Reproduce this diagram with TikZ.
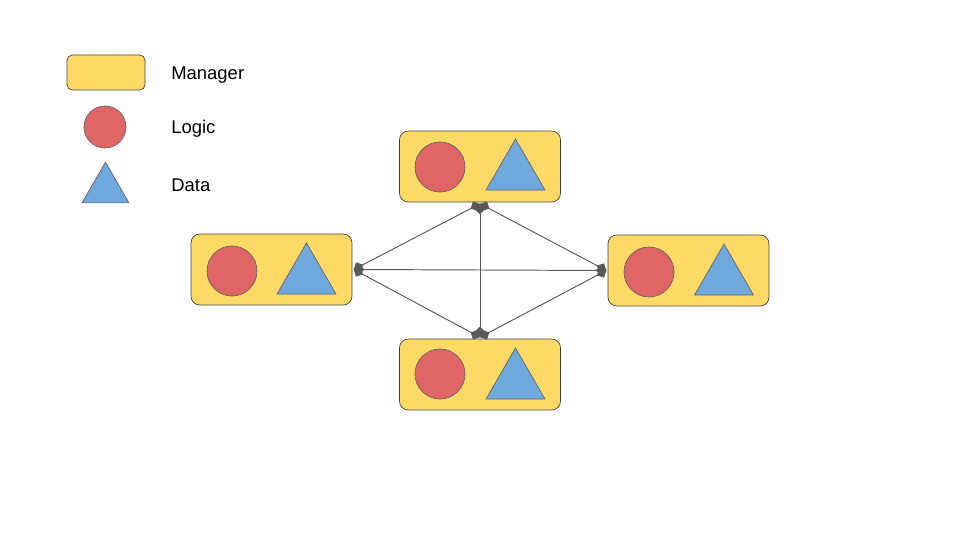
\documentclass[tikz,border=0pt]{standalone}
\usepackage{fontspec}
\setmainfont{Liberation Sans}
\usepackage{xcolor}
\usepackage{tikz}
\usetikzlibrary{shapes.geometric, arrows.meta, positioning}

\definecolor{mgryellow}{HTML}{FFD966}
\definecolor{logicred}{HTML}{E06666}
\definecolor{datablue}{HTML}{6FA8DC}
\definecolor{edgegray}{HTML}{595959}

\begin{document}
\begin{tikzpicture}[
    x=0.02cm, y=-0.02cm,
    manager/.style={rectangle, draw=black!75, fill=mgryellow, rounded corners=5pt, minimum width=3.22cm, minimum height=1.42cm, inner sep=0, outer sep=1pt},
    logic/.style={circle, draw=black!60, fill=logicred, minimum size=1cm, inner sep=0},
    data/.style={regular polygon, regular polygon sides=3, draw=black!60, fill=datablue, minimum size=1.362cm, inner sep=0},
    label/.style={anchor=west, inner sep=0, font=\fontsize{10.5}{12}\selectfont},
    link/.style={draw=edgegray, line width=0.55pt, {Diamond[length=6pt,width=6pt]}-{Diamond[length=6pt,width=6pt]}}
]
\useasboundingbox (0,0) rectangle (960,540);

% Legend
\node (legmgr) [manager, minimum width=1.56cm, minimum height=0.7cm, rounded corners=3pt] at (106,72.5) {};
\node (leglogic) [logic, minimum size=0.84cm] at (105,127) {};
\node (legdata) [data, minimum size=1.086cm] at (105.5,189.3) {};
\node [label] at (171,75) {Manager};
\node [label] at (171,129) {Logic};
\node [label] at (171,185) {Data};

% Managers
\node (top) [manager] at (480,166.5) {};
\node [logic] at (440,167) {};
\node [data] at (515.5,173) {};

\node (left) [manager] at (271.5,269.5) {};
\node [logic] at (232,271) {};
\node [data] at (306.5,277) {};

\node (right) [manager] at (688.5,270.5) {};
\node [logic] at (649,272) {};
\node [data] at (724,278) {};

\node (bottom) [manager] at (480,374.5) {};
\node [logic] at (440,374) {};
\node [data] at (515.5,382) {};

% Links
\draw [link] (left.east) -- (top.south);
\draw [link] (left.east) -- (right.west);
\draw [link] (left.east) -- (bottom.north);
\draw [link] (top.south) -- (right.west);
\draw [link] (top.south) -- (bottom.north);
\draw [link] (bottom.north) -- (right.west);

\end{tikzpicture}
\end{document}
